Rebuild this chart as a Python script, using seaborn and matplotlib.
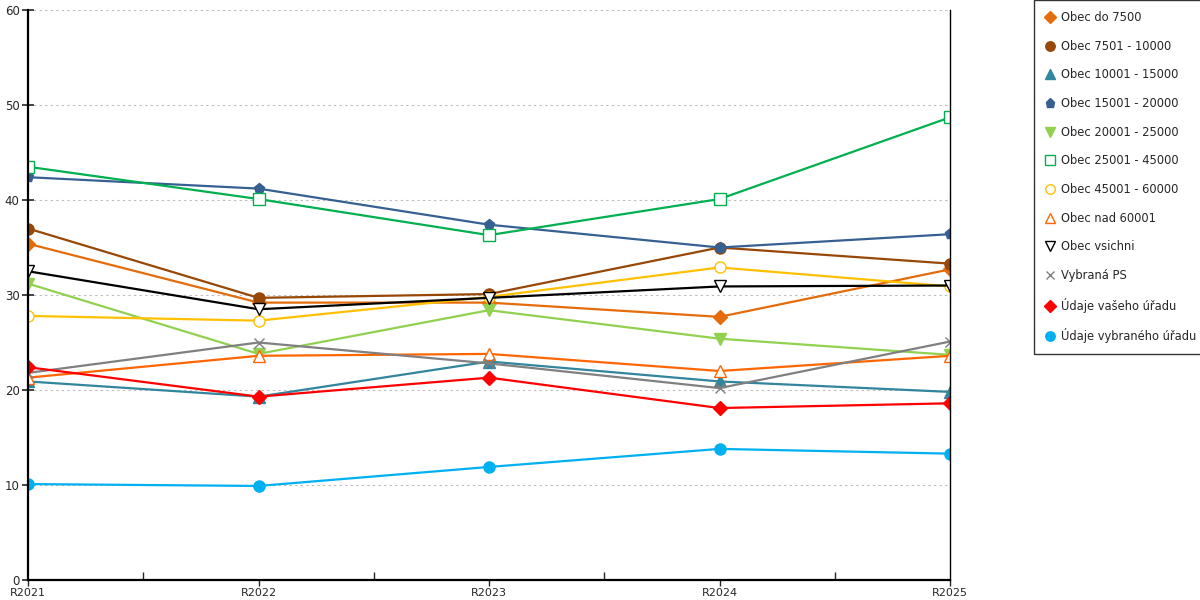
import matplotlib
matplotlib.use("Agg")
import matplotlib.pyplot as plt
from matplotlib.ticker import MultipleLocator, FixedLocator
import pandas as pd
import seaborn as sns

years = ["R2021", "R2022", "R2023", "R2024", "R2025"]

series_names = [
    "Obec do 7500",
    "Obec 7501 - 10000",
    "Obec 10001 - 15000",
    "Obec 15001 - 20000",
    "Obec 20001 - 25000",
    "Obec 25001 - 45000",
    "Obec 45001 - 60000",
    "Obec nad 60001",
    "Obec vsichni",
    "Vybraná PS",
    "Údaje vašeho úřadu",
    "Údaje vybraného úřadu",
]

obec_do_7500 = [35.4, 29.2, 29.2, 27.7, 32.7]
obec_7501_10000 = [37.0, 29.7, 30.1, 35.0, 33.3]
obec_10001_15000 = [20.9, 19.3, 23.0, 20.9, 19.8]
obec_15001_20000 = [42.4, 41.2, 37.4, 35.0, 36.4]
obec_20001_25000 = [31.2, 23.8, 28.4, 25.4, 23.7]
obec_25001_45000 = [43.5, 40.1, 36.3, 40.1, 48.7]
obec_45001_60000 = [27.8, 27.3, 29.8, 32.9, 30.9]
obec_nad_60001 = [21.3, 23.6, 23.8, 22.0, 23.6]
obec_vsichni = [32.5, 28.5, 29.7, 30.9, 31.0]
vybrana_ps = [21.8, 25.0, 22.8, 20.2, 25.1]
udaje_vaseho = [22.4, 19.3, 21.3, 18.1, 18.6]
udaje_vybraneho = [10.1, 9.9, 11.9, 13.8, 13.3]

all_values = [
    obec_do_7500, obec_7501_10000, obec_10001_15000, obec_15001_20000,
    obec_20001_25000, obec_25001_45000, obec_45001_60000, obec_nad_60001,
    obec_vsichni, vybrana_ps, udaje_vaseho, udaje_vybraneho,
]

# color, marker, filled
styles = {
    "Obec do 7500": ("#E46C0A", "D", True),
    "Obec 7501 - 10000": ("#974706", "o", True),
    "Obec 10001 - 15000": ("#31859C", "^", True),
    "Obec 15001 - 20000": ("#376092", "p", True),
    "Obec 20001 - 25000": ("#92D050", "v", True),
    "Obec 25001 - 45000": ("#00B050", "s", False),
    "Obec 45001 - 60000": ("#FFC000", "o", False),
    "Obec nad 60001": ("#FF6600", "^", False),
    "Obec vsichni": ("#000000", "v", False),
    "Vybraná PS": ("#808080", "x", False),
    "Údaje vašeho úřadu": ("#FF0000", "D", True),
    "Údaje vybraného úřadu": ("#00B0F0", "o", True),
}

rows = []
for name, vals in zip(series_names, all_values):
    for i, v in enumerate(vals):
        rows.append({"series": name, "pos": i, "value": v})
df = pd.DataFrame(rows)

sns.set_style("white")
plt.rcParams["font.family"] = ["DejaVu Sans"]

fig = plt.figure(figsize=(12, 6), dpi=100)
ax = fig.add_axes([28 / 1200, 1 - 580 / 600, (950 - 28) / 1200, 570 / 600])

for name in series_names:
    color, marker, filled = styles[name]
    sub = df[df["series"] == name]
    size = 8 if marker not in ("D", "x") else 7
    if marker == "s":
        size = 9
    sns.lineplot(
        data=sub, x="pos", y="value", ax=ax, color=color, lw=1.6,
        marker=marker, markersize=size,
        markerfacecolor=color if filled else "white",
        markeredgecolor=color, markeredgewidth=1.0,
        label=name, legend=False,
    )

ax.set_xlim(0, len(years) - 1)
ax.set_ylim(0, 60)
ax.yaxis.set_major_locator(MultipleLocator(10))
ax.set_xticks(range(len(years)))
ax.set_xticklabels(years)
ax.xaxis.set_minor_locator(FixedLocator([0.5, 1.5, 2.5, 3.5]))
ax.set_xlabel("")
ax.set_ylabel("")

ax.grid(axis="y", color="#BBBBBB", linestyle=(0, (2, 3)), lw=0.8)
ax.grid(axis="x", visible=False)
ax.set_axisbelow(True)

ax.spines["top"].set_visible(False)
ax.spines["left"].set_color("black")
ax.spines["left"].set_linewidth(1.6)
ax.spines["bottom"].set_color("black")
ax.spines["bottom"].set_linewidth(1.6)
ax.spines["right"].set_color("black")
ax.spines["right"].set_linewidth(1.0)

ax.tick_params(axis="y", which="major", direction="inout", length=8, width=1.2,
               labelsize=8.5, pad=2, left=True)
ax.tick_params(axis="x", which="major", direction="out", length=4, width=1.0,
               labelsize=8, pad=2, bottom=True)
ax.tick_params(axis="x", which="minor", direction="in", length=6, width=1.0, bottom=True)

handles, labels = ax.get_legend_handles_labels()
leg = fig.legend(
    handles, labels, loc="upper left", bbox_to_anchor=(1034 / 1200, 1.0),
    frameon=True, fancybox=False, fontsize=8.3, labelspacing=1.36,
    handlelength=0.8, handletextpad=0.6, borderpad=0.95, borderaxespad=0,
    markerscale=0.85,
)
for h in leg.legend_handles:
    h.set_linestyle("none")
leg.get_frame().set_edgecolor("black")
leg.get_frame().set_linewidth(1.0)

fig.savefig("out.png", dpi=100)
